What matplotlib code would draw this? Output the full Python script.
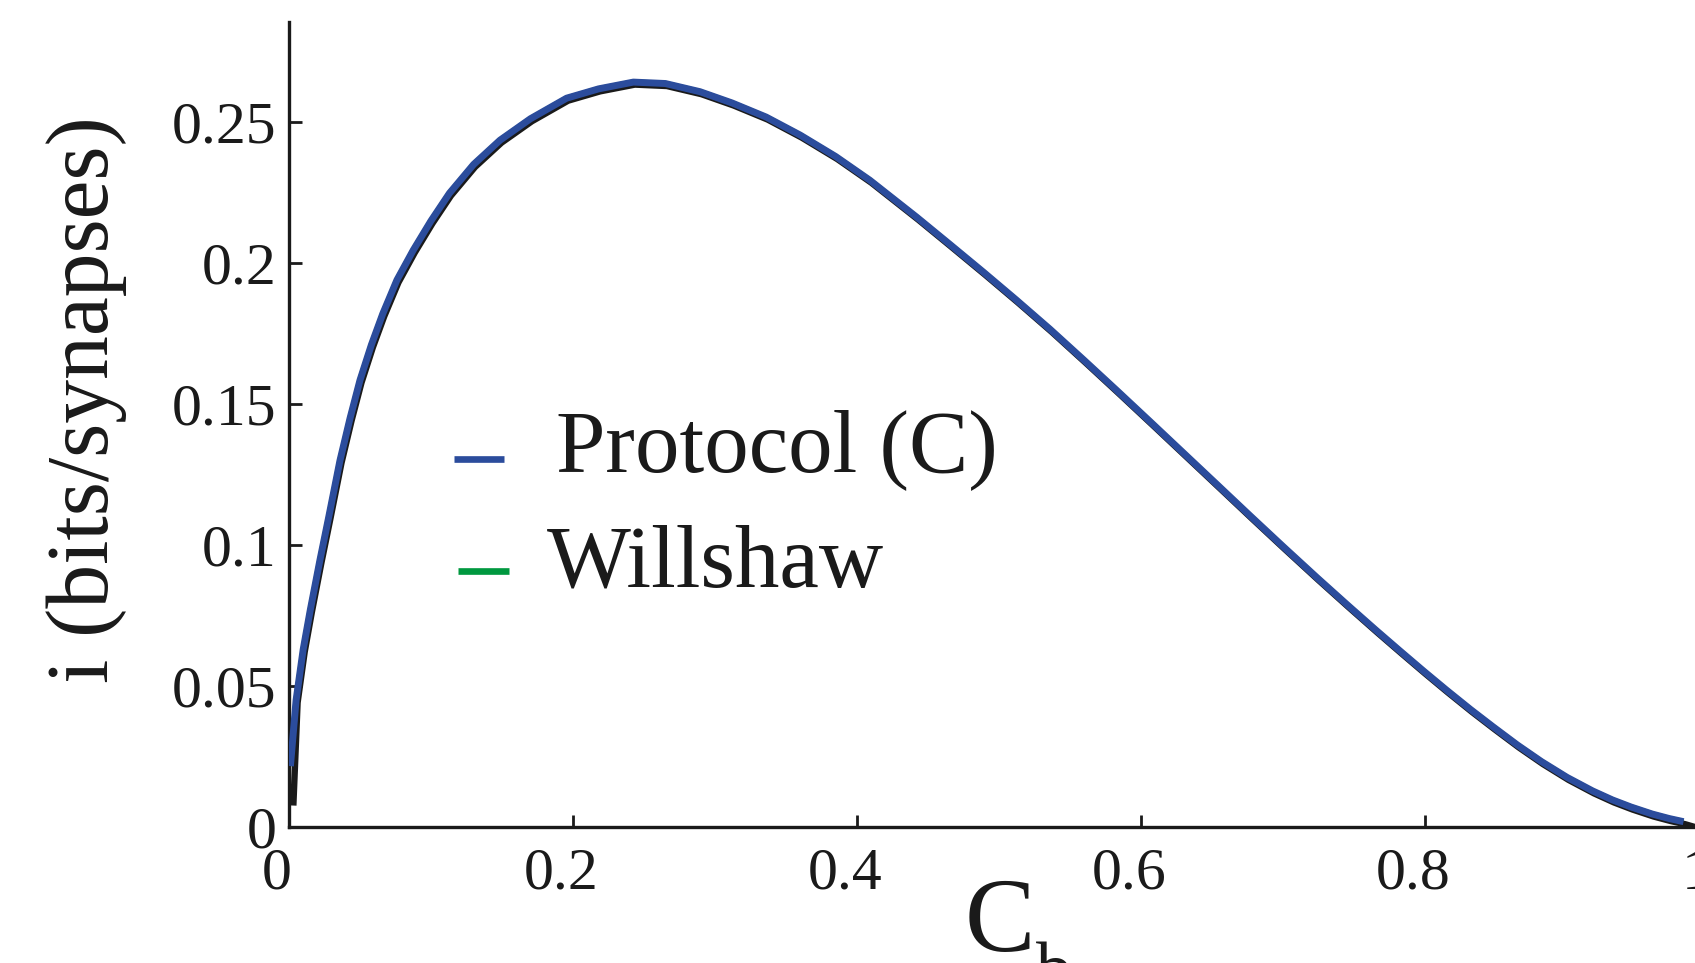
import matplotlib
matplotlib.use("Agg")
import matplotlib.pyplot as plt
import matplotlib.transforms as mtransforms
from matplotlib.lines import Line2D

# values
protocol_c = [0.001, 0.005, 0.010, 0.015, 0.0218, 0.028, 0.0359, 0.043, 0.050,
              0.058, 0.066, 0.076, 0.0875, 0.100, 0.113, 0.130, 0.1486, 0.170,
              0.1955, 0.218, 0.2425, 0.265, 0.2894, 0.312, 0.336, 0.360, 0.385,
              0.409, 0.442, 0.465, 0.489, 0.512, 0.536, 0.560, 0.583, 0.607,
              0.630, 0.653, 0.677, 0.700, 0.724, 0.745, 0.765, 0.782, 0.799,
              0.815, 0.832, 0.848, 0.865, 0.882, 0.900, 0.918, 0.932, 0.945,
              0.960, 0.972, 0.982]
protocol_i = [0.0216, 0.045, 0.063, 0.077, 0.0947, 0.110, 0.130, 0.145, 0.1585,
              0.171, 0.182, 0.194, 0.2046, 0.2150, 0.2248, 0.2350, 0.2436, 0.2512,
              0.2585, 0.2618, 0.2642, 0.2637, 0.2608, 0.2568, 0.2518, 0.2454, 0.2378,
              0.2294, 0.2163, 0.2068, 0.1968, 0.1870, 0.1765, 0.1655, 0.1548, 0.1435,
              0.1326, 0.1217, 0.1103, 0.0995, 0.0884, 0.0789, 0.0700, 0.0626, 0.0553,
              0.0486, 0.0417, 0.0355, 0.0291, 0.0232, 0.0176, 0.0128, 0.0096, 0.0071,
              0.0046, 0.0030, 0.0019]

# black reference curve sitting just under the blue one
theory_c = [0.002] + protocol_c[1:] + [0.995]
theory_i = [0.0085] + protocol_i[1:] + [0.0]

# Willshaw curve coincides with protocol (C), hidden underneath
willshaw_c = list(protocol_c)
willshaw_i = list(protocol_i)

x_ticks = [0, 0.2, 0.4, 0.6, 0.8, 1]
x_labels = ["0", "0.2", "0.4", "0.6", "0.8", "1"]
y_ticks = [0, 0.05, 0.1, 0.15, 0.2, 0.25]
y_labels = ["0", "0.05", "0.1", "0.15", "0.2", "0.25"]

plt.rcParams['font.family'] = ['Liberation Serif', 'DejaVu Serif']

W, H = 1695, 963
fig = plt.figure(figsize=(W / 100, H / 100), dpi=100)
ax = fig.add_axes([0.1705, 0.1412, 0.8378, 0.8359])

blue = '#2b4c9c'
green = '#00983f'
ink = '#1a1a1a'

ax.plot(willshaw_c, willshaw_i, color=green, linewidth=4.0, zorder=1,
        solid_capstyle='butt')
shadow = mtransforms.offset_copy(ax.transData, fig=fig, x=1.5, y=-2.5, units='dots')
ax.plot(theory_c, theory_i, color=ink, linewidth=4.6, zorder=2,
        solid_capstyle='butt', solid_joinstyle='round', transform=shadow)
ax.plot(protocol_c, protocol_i, color=blue, linewidth=5.0, zorder=3,
        solid_capstyle='butt', solid_joinstyle='round')

ax.set_xlim(0, 1)
ax.set_ylim(0, 0.2855)

for side in ['top', 'right']:
    ax.spines[side].set_visible(False)
for side in ['left', 'bottom']:
    ax.spines[side].set_linewidth(2.4)
    ax.spines[side].set_color(ink)

ax.set_xticks(x_ticks)
ax.set_xticklabels(x_labels)
ax.set_yticks(y_ticks)
ax.set_yticklabels(y_labels)
ax.tick_params(axis='both', direction='in', length=9, width=2.0, colors=ink,
               labelsize=43)
ax.tick_params(axis='x', pad=15)
ax.tick_params(axis='y', pad=9)

# x tick labels sit a little left of their ticks in the original
shift = mtransforms.ScaledTranslation(-12 / 100, 0, fig.dpi_scale_trans)
for lab in ax.get_xticklabels():
    lab.set_transform(lab.get_transform() + shift)

fig.text(87 / W, 1 - 400 / H, 'i (bits/synapses)', rotation=90,
         ha='center', va='center', fontsize=63, color=ink)
fig.text(1000 / W, 1 - 951 / H, 'C', ha='center', va='baseline',
         fontsize=76, color=ink)
fig.text(1036 / W, 1 - 942 / H, 'b', ha='left', va='top',
         fontsize=52, color=ink)

# legend drawn by hand to match the key placement
legend_rows = [('Protocol (C)', blue, 454, 504, 459, 556, 471),
               ('Willshaw', green, 458, 509, 571, 547, 587)]
for text, col, x0, x1, yk, xt, yt in legend_rows:
    fig.add_artist(Line2D([x0 / W, x1 / W], [1 - yk / H, 1 - yk / H],
                          transform=fig.transFigure, color=col, linewidth=4.8,
                          solid_capstyle='butt'))
    fig.text(xt / W, 1 - yt / H, text, ha='left', va='baseline',
             fontsize=64, color=ink)

fig.savefig('out.png', dpi=100)
